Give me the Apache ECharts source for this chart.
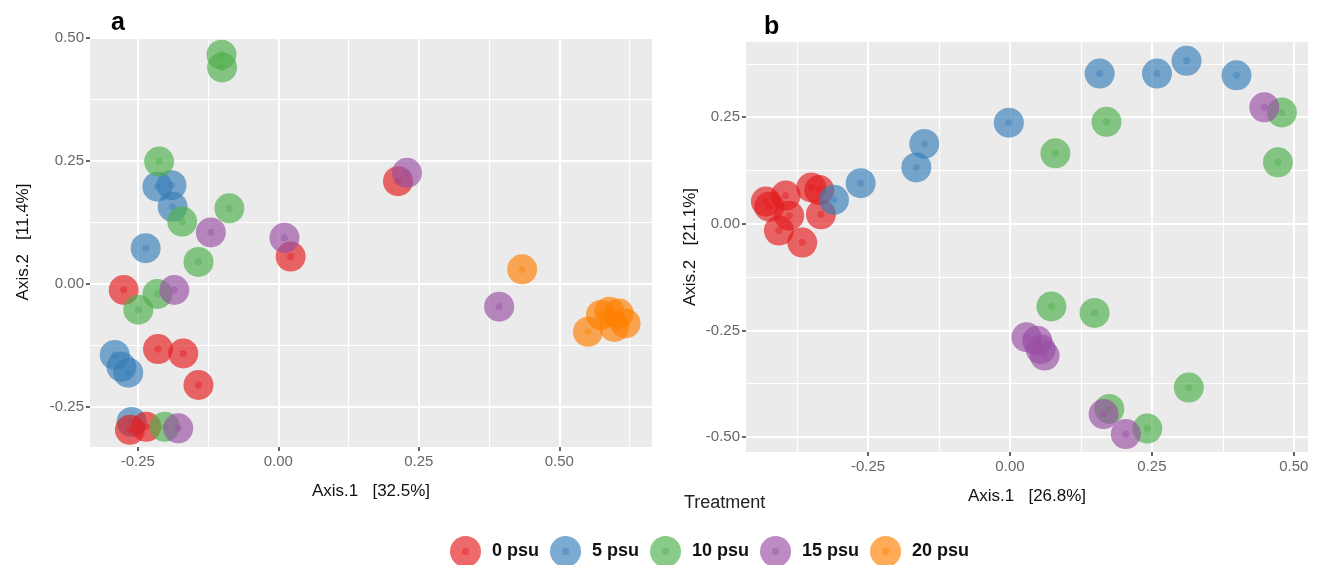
<!DOCTYPE html>
<html>
<head>
<meta charset="utf-8">
<script src="https://cdn.jsdelivr.net/npm/echarts@6/dist/echarts.min.js"></script>
<style>
  html, body { margin: 0; padding: 0; background: #fff; }
  #chart { width: 1321px; height: 565px; }
</style>
</head>
<body>
<div id="chart"></div>
<script>
const groups = ['0 psu', '5 psu', '10 psu', '15 psu', '20 psu']

// panel a: [Axis.1, Axis.2]
const a0 = [[-0.275, -0.012], [-0.214, -0.132], [-0.169, -0.141], [-0.142, -0.205], [-0.264, -0.296], [-0.235, -0.290], [0.022, 0.056], [0.213, 0.209]]
const a5 = [[-0.215, 0.198], [-0.190, 0.201], [-0.188, 0.157], [-0.236, 0.073], [-0.291, -0.144], [-0.279, -0.168], [-0.267, -0.180], [-0.261, -0.280]]
const a10 = [[-0.101, 0.466], [-0.100, 0.440], [-0.212, 0.249], [-0.087, 0.154], [-0.171, 0.127], [-0.142, 0.045], [-0.215, -0.020], [-0.249, -0.052], [-0.202, -0.290]]
const a15 = [[-0.120, 0.105], [0.011, 0.094], [-0.185, -0.012], [-0.178, -0.293], [0.229, 0.226], [0.393, -0.046]]
const a20 = [[0.434, 0.030], [0.551, -0.097], [0.574, -0.063], [0.589, -0.056], [0.606, -0.060], [0.598, -0.087], [0.618, -0.080]]

// panel b
const b0 = [[-0.430, 0.052], [-0.424, 0.040], [-0.395, 0.066], [-0.389, 0.019], [-0.407, -0.016], [-0.366, -0.044], [-0.350, 0.085], [-0.336, 0.079], [-0.333, 0.022]]
const b5 = [[-0.310, 0.056], [-0.263, 0.095], [-0.165, 0.132], [-0.151, 0.187], [-0.002, 0.237], [0.158, 0.352], [0.259, 0.352], [0.311, 0.382], [0.399, 0.348]]
const b10 = [[0.080, 0.165], [0.170, 0.239], [0.479, 0.261], [0.472, 0.144], [0.073, -0.194], [0.149, -0.209], [0.315, -0.384], [0.175, -0.434], [0.242, -0.480]]
const b15 = [[0.448, 0.273], [0.029, -0.266], [0.048, -0.274], [0.054, -0.294], [0.061, -0.309], [0.165, -0.446], [0.204, -0.493]]

// axis ticks
const majorTicks = [-0.5, -0.25, 0, 0.25, 0.5]
const minorTicks = [-0.375, -0.125, 0.125, 0.375, 0.625]

const palette = {
  '0 psu': [228, 26, 28],
  '5 psu': [55, 126, 184],
  '10 psu': [77, 175, 74],
  '15 psu': [152, 78, 163],
  '20 psu': [255, 127, 0]
}

function dotFill(name) {
  const [r, g, b] = palette[name]
  const solid = `rgb(${r},${g},${b})`
  const soft = `rgba(${r},${g},${b},0.82)`
  return new echarts.graphic.RadialGradient(0.5, 0.5, 0.5, [
    { offset: 0, color: solid },
    { offset: 0.22, color: solid },
    { offset: 0.26, color: soft },
    { offset: 1, color: soft }
  ])
}

const panels = [
  { grid: { left: 90, top: 37, width: 562, height: 410 }, xMin: -0.335, xMax: 0.665, yMin: -0.331, yMax: 0.502,
    xName: 'Axis.1   [32.5%]', yName: 'Axis.2   [11.4%]', yGap: 58,
    order: [['5 psu', a5], ['0 psu', a0], ['10 psu', a10], ['15 psu', a15], ['20 psu', a20]] },
  { grid: { left: 746, top: 42, width: 562, height: 410 }, xMin: -0.465, xMax: 0.525, yMin: -0.535, yMax: 0.426,
    xName: 'Axis.1   [26.8%]', yName: 'Axis.2   [21.1%]', yGap: 47,
    order: [['0 psu', b0], ['5 psu', b5], ['10 psu', b10], ['15 psu', b15]] }
]

const labelColor = '#666'
const nameStyle = { color: '#111', fontSize: 17, fontFamily: 'Liberation Sans' }

function mainAxis(i, min, max, name, gap, isY) {
  const inRange = majorTicks.filter((v) => v >= min && v <= max)
  return {
    type: 'value', gridIndex: i, min, max,
    position: isY ? 'left' : 'bottom',
    name, nameLocation: 'middle', nameGap: gap, nameTextStyle: nameStyle,
    axisLine: { show: false, onZero: false },
    axisTick: { show: true, length: 4, customValues: inRange, lineStyle: { color: '#333', width: 1.5 } },
    axisLabel: {
      customValues: inRange, color: labelColor, fontSize: 15, margin: isY ? 6 : 7,
      fontFamily: 'Liberation Sans', formatter: (v) => v.toFixed(2)
    },
    splitLine: { show: true, lineStyle: { color: '#ffffff', width: 2 } }
  }
}

function minorAxis(i, min, max, isY) {
  const inRange = minorTicks.filter((v) => v > min && v < max)
  return {
    type: 'value', gridIndex: i, min, max,
    position: isY ? 'right' : 'top',
    axisLine: { show: false, onZero: false },
    axisTick: { show: false, customValues: inRange },
    axisLabel: { show: false, customValues: inRange },
    splitLine: { show: true, lineStyle: { color: '#ffffff', width: 1 } }
  }
}

const xAxis = []
const yAxis = []
panels.forEach((p, i) => {
  xAxis.push(mainAxis(i, p.xMin, p.xMax, p.xName, 36, false))
  yAxis.push(mainAxis(i, p.yMin, p.yMax, p.yName, p.yGap, true))
})
panels.forEach((p, i) => {
  xAxis.push(minorAxis(i, p.xMin, p.xMax, false))
  yAxis.push(minorAxis(i, p.yMin, p.yMax, true))
})

const series = []
panels.forEach((p, i) => {
  p.order.forEach(([name, data]) => {
    series.push({
      name, type: 'scatter', xAxisIndex: i, yAxisIndex: i,
      data, symbol: 'circle', symbolSize: 30,
      itemStyle: { color: dotFill(name) },
      emphasis: { disabled: true }
    })
  })
})

const chart = echarts.init(document.getElementById('chart'), null, { renderer: 'canvas' })
chart.setOption({
  animation: false,
  backgroundColor: '#ffffff',
  title: [
    { text: 'a', left: 106, top: 6, textStyle: { fontSize: 25, fontWeight: 'bold', color: '#000', fontFamily: 'Liberation Sans' } },
    { text: 'b', left: 759, top: 10, textStyle: { fontSize: 25, fontWeight: 'bold', color: '#000', fontFamily: 'Liberation Sans' } },
    { text: 'Treatment', left: 679, top: 489, textStyle: { fontSize: 18, fontWeight: 'normal', color: '#222', fontFamily: 'Liberation Sans' } }
  ],
  grid: panels.map((p) => ({ ...p.grid, show: true, backgroundColor: '#ebebeb', borderWidth: 0 })),
  xAxis,
  yAxis,
  legend: {
    data: groups,
    left: 445, top: 531,
    icon: 'circle', itemWidth: 31, itemHeight: 31, itemGap: 11,
    textStyle: { fontSize: 18, fontWeight: 'bold', color: '#111', fontFamily: 'Liberation Sans', padding: [0, 0, 0, 6] },
    selectedMode: false
  },
  series
})
</script>
</body>
</html>
